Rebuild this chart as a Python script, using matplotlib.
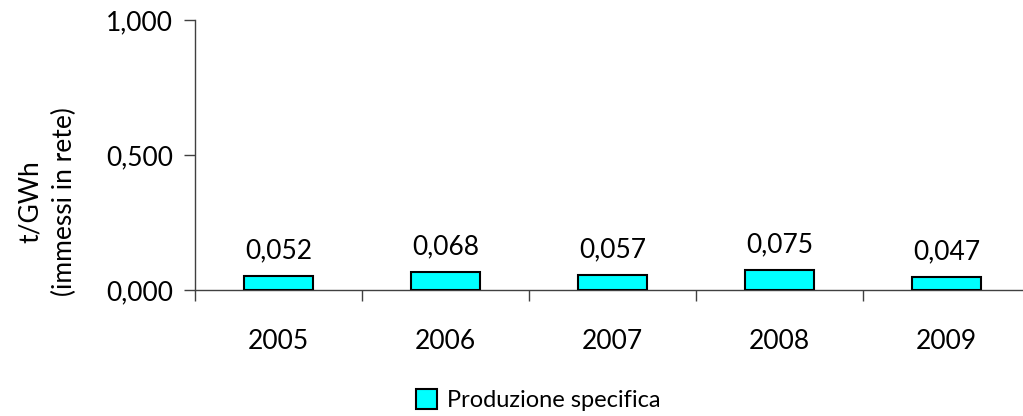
import matplotlib.pyplot as plt
from matplotlib.patches import Patch
from matplotlib.ticker import FuncFormatter, FixedLocator

years = ['2005', '2006', '2007', '2008', '2009']
values = [0.052, 0.068, 0.057, 0.075, 0.047]
series_name = 'Produzione specifica'

plt.rcParams['font.family'] = ['Lato', 'DejaVu Sans']

fig = plt.figure(figsize=(10.23, 4.16), dpi=100)
ax = fig.add_axes([195/1023, 126/416, 835/1023, 270/416])

x = range(len(years))
bars = ax.bar(x, values, width=0.41, color='#00FFFF', edgecolor='black', linewidth=1.5, zorder=3)

for xi, v in zip(x, values):
    ax.annotate(f'{v:.3f}'.replace('.', ','), (xi, v), xytext=(0, 9), textcoords='offset points',
                ha='center', va='bottom', fontsize=19)

ax.set_xlim(-0.5, len(years) - 0.5)
ax.set_ylim(0, 1)
ax.set_yticks([0, 0.5, 1.0])
ax.yaxis.set_major_formatter(FuncFormatter(lambda v, p: f'{v:.3f}'.replace('.', ',')))
ax.set_xticks(list(x))
ax.set_xticklabels(years)
ax.xaxis.set_minor_locator(FixedLocator([i - 0.5 for i in range(len(years) + 1)]))
ax.tick_params(axis='x', which='major', length=0, pad=28, labelsize=19)
ax.tick_params(axis='x', which='minor', length=8, width=1, color='#404040', direction='out')
ax.tick_params(axis='y', length=8, width=1, color='#404040', labelsize=19, pad=8)

for s in ['top', 'right']:
    ax.spines[s].set_visible(False)
for s in ['left', 'bottom']:
    ax.spines[s].set_color('#404040')
    ax.spines[s].set_linewidth(1)

fig.text(47/1023, 1 - 202/416, 't/GWh\n(immessi in rete)', rotation=90, fontsize=19,
         ha='center', va='center', multialignment='center', linespacing=1.45)

fig.legend(handles=[Patch(facecolor='#00FFFF', edgecolor='black', linewidth=1.5, label=series_name)],
           loc='center', bbox_to_anchor=(538/1023, 1 - 400/416), frameon=False, fontsize=17,
           handlelength=0.9, handleheight=0.9, handletextpad=0.4)

fig.savefig('out.png', dpi=100)
